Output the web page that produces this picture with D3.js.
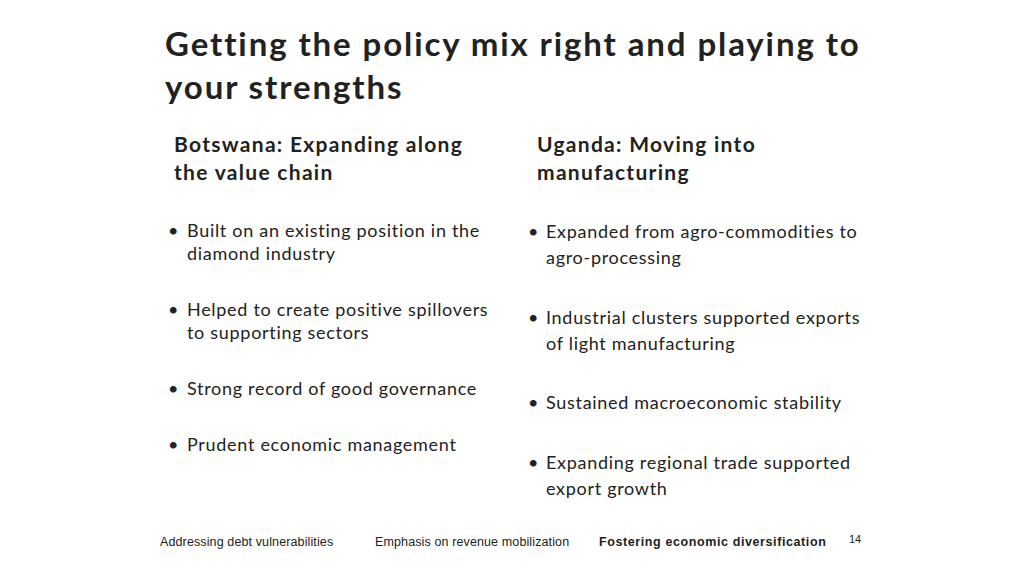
<!DOCTYPE html>
<html><head><meta charset="utf-8">
<script src="https://cdn.jsdelivr.net/npm/d3@7"></script>
<style>body{margin:0;background:#fff}</style></head>
<body><svg id="s" width="1024" height="576"></svg>
<script>
const titleLines = ["Getting the policy mix right and playing to", "your strengths"];
const leftHead = ["Botswana: Expanding along", "the value chain"];
const rightHead = ["Uganda: Moving into", "manufacturing"];
const leftBullets = [["Built on an existing position in the","diamond industry"],["Helped to create positive spillovers","to supporting sectors"],["Strong record of good governance"],["Prudent economic management"]];
const leftY = [237, 316, 395, 451];
const rightBullets = [["Expanded from agro-commodities to","agro-processing"],["Industrial clusters supported exports","of light manufacturing"],["Sustained macroeconomic stability"],["Expanding regional trade supported","export growth"]];
const rightY = [238, 324, 409, 469];
const footer = ["Addressing debt vulnerabilities","Emphasis on revenue mobilization","Fostering economic diversification"];
const footerX = [160, 375, 599];
const pageNum = "14";

const svg = d3.select("#s");
const F = "Lato, 'Open Sans', sans-serif";
svg.selectAll(".t").data(titleLines).join("text").attr("x",165).attr("y",(d,i)=>56+i*43)
  .attr("font-family",F).attr("font-weight","bold").attr("font-size",33).attr("letter-spacing",1.9).attr("fill","#222").text(d=>d);
function head(lines,x){svg.append("g").selectAll("text").data(lines).join("text").attr("x",x).attr("y",(d,i)=>152+i*28)
  .attr("font-family",F).attr("font-weight","bold").attr("font-size",21).attr("letter-spacing",1.3).attr("fill","#222").text(d=>d);}
head(leftHead,174); head(rightHead,537);
function bullets(data,ys,bx,tx,lh){
  data.forEach((b,i)=>{
    svg.append("text").attr("x",bx).attr("y",ys[i]).attr("font-family",F).attr("font-size",18).attr("fill","#222").text("•");
    b.forEach((l,j)=>svg.append("text").attr("x",tx).attr("y",ys[i]+j*lh).attr("font-family",F).attr("font-size",18).attr("letter-spacing",0.7).attr("fill","#222").text(l));
  });
}
bullets(leftBullets,leftY,168,187,23);
bullets(rightBullets,rightY,528,546,26);
svg.selectAll(".f").data(footer).join("text").attr("x",(d,i)=>footerX[i]).attr("y",546)
  .attr("font-family","'Liberation Sans', Arial, sans-serif").attr("font-size",12.5)
  .attr("letter-spacing",(d,i)=>i===2?0.6:0.12)
  .attr("font-weight",(d,i)=>i===2?"bold":"normal").attr("fill","#222").text(d=>d);
svg.append("text").attr("x",849).attr("y",543).attr("font-family","'Liberation Sans', Arial, sans-serif").attr("font-size",11).attr("fill","#222").text(pageNum);
</script></body></html>
